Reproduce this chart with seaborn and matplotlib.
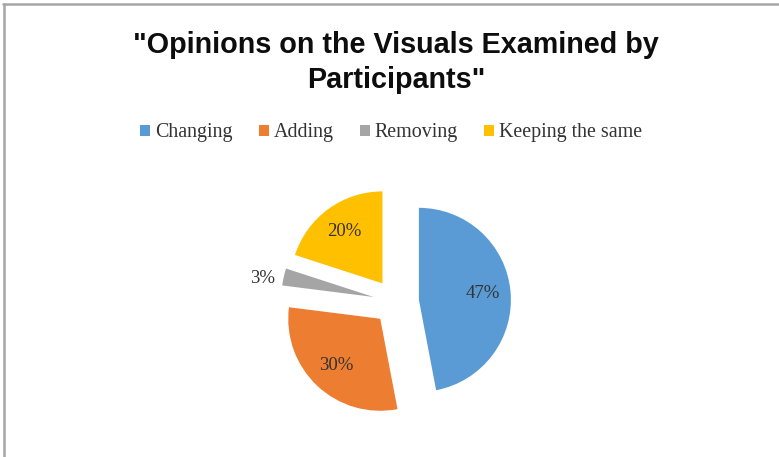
import matplotlib
matplotlib.use("Agg")
import matplotlib.pyplot as plt
from matplotlib.lines import Line2D
import seaborn as sns
import numpy as np

categories = ["Changing", "Adding", "Removing", "Keeping the same"]
shares = [47, 30, 3, 20]
colors = ["#5B9BD5", "#ED7D31", "#A5A5A5", "#FFC000"]

sns.set_theme(style="white")
palette = sns.color_palette(colors)

W, H = 779, 457
fig = plt.figure(figsize=(W / 100, H / 100), dpi=100)
fig.patch.set_facecolor("white")

# pie axes: centre at (396, 302) px from top-left, unit radius = 92 px
size = 230
cx, cy = 396, 302
ax = fig.add_axes([(cx - size / 2) / W, (H - cy - size / 2) / H, size / W, size / H])

serif = ["Liberation Serif", "DejaVu Serif"]
wedges, texts, autotexts = ax.pie(
    shares,
    colors=palette,
    explode=[0.25] * len(shares),
    startangle=90,
    counterclock=False,
    autopct=lambda p: f"{p:.0f}%",
    pctdistance=0.7,
    wedgeprops=dict(linewidth=0),
    textprops=dict(family=serif, fontsize=13.5, color="#333333"),
)
ax.set_xlim(-1.25, 1.25)
ax.set_ylim(-1.25, 1.25)
ax.set_aspect("equal")
ax.axis("off")

# small slices get their value label outside the wedge, level with its tip
for w, t, v in zip(wedges, autotexts, shares):
    if v < 5:
        ang = np.deg2rad((w.theta1 + w.theta2) / 2 + 2.5)
        d = 1.47
        t.set_position((d * np.cos(ang), d * np.sin(ang)))

title_font = ["Liberation Sans", "DejaVu Sans"]
fig.text(396 / W, 1 - 45 / H, "\"Opinions on the Visuals Examined by",
         ha="center", va="center", fontsize=20.7, fontweight="bold",
         family=title_font, color="#0d0d0d")
fig.text(396 / W, 1 - 80 / H, "Participants\"",
         ha="center", va="center", fontsize=20.7, fontweight="bold",
         family=title_font, color="#0d0d0d")

handles = [plt.Rectangle((0, 0), 1, 1, facecolor=c, edgecolor="none") for c in palette]
fig.legend(handles, categories, loc="center", bbox_to_anchor=(391 / W, 1 - 133 / H),
           ncol=4, frameon=False, handlelength=0.5, handleheight=0.5,
           handletextpad=0.25, columnspacing=1.3,
           prop=dict(family=serif, size=14.4), labelcolor="#333333")

# chart area border
fig.add_artist(Line2D([3 / W, 1.0], [1 - 4 / H, 1 - 4 / H], transform=fig.transFigure,
                      color="#A6A6A6", linewidth=1.8))
fig.add_artist(Line2D([4 / W, 4 / W], [0, 1 - 4 / H], transform=fig.transFigure,
                      color="#A6A6A6", linewidth=1.8))

fig.savefig("out.png", dpi=100, facecolor="white")
